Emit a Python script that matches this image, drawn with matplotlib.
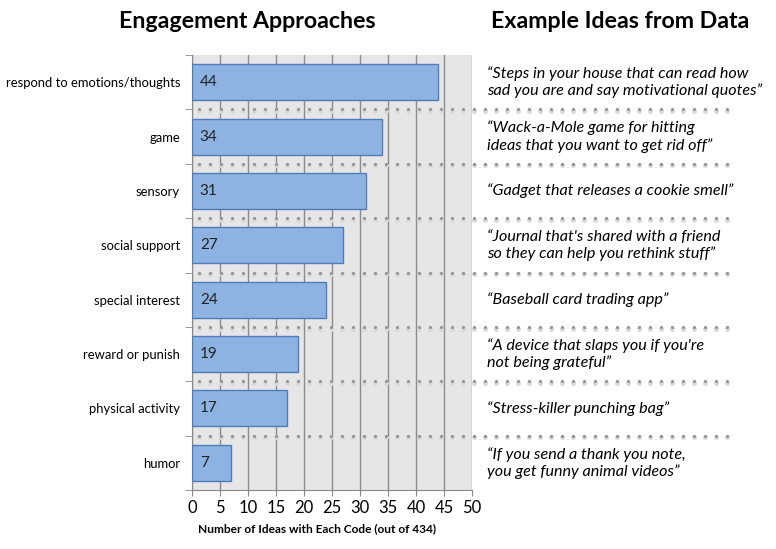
import matplotlib.pyplot as plt
import numpy as np

plt.rcParams['font.family'] = ['Lato', 'DejaVu Sans']

# data
approaches = ['respond to emotions/thoughts', 'game', 'sensory', 'social support',
              'special interest', 'reward or punish', 'physical activity', 'humor']
counts = [44, 34, 31, 27, 24, 19, 17, 7]
quotes = ['\u201cSteps in your house that can read how\nsad you are and say motivational quotes\u201d',
          '\u201cWack-a-Mole game for hitting\nideas that you want to get rid off\u201d',
          '\u201cGadget that releases a cookie smell\u201d',
          '\u201cJournal that\'s shared with a friend\nso they can help you rethink stuff\u201d',
          '\u201cBaseball card trading app\u201d',
          '\u201cA device that slaps you if you\'re\nnot being grateful\u201d',
          '\u201cStress-killer punching bag\u201d',
          '\u201cIf you send a thank you note,\nyou get funny animal videos\u201d']
xticks = [0, 5, 10, 15, 20, 25, 30, 35, 40, 45, 50]

W, H = 776, 549
fig = plt.figure(figsize=(W / 100, H / 100), dpi=100)
ax = fig.add_axes([192 / W, 1 - 490 / H, 280 / W, 435 / H])
ax.set_facecolor('#e6e6e6')

y = np.arange(len(approaches))
ax.barh(y, counts, height=0.66, color='#8db3e2', edgecolor='#4f7dbb', linewidth=1.0, zorder=3)
for yi, c in zip(y, counts):
    ax.text(1.4, yi, str(c), va='center', ha='left', fontsize=11, color='#222222', zorder=4)

ax.set_xlim(0, 50)
ax.set_ylim(len(approaches) - 0.5, -0.5)
ax.set_xticks(xticks)
ax.set_xticklabels([str(t) for t in xticks], fontsize=12)
ax.tick_params(axis='x', length=4, color='#888888', pad=3)
ax.grid(axis='x', color='#8c8c8c', linewidth=1.0, zorder=1)

ax.set_yticks(y)
ax.set_yticklabels(approaches, fontsize=9.4)
ax.tick_params(axis='y', which='major', length=0, pad=8.6)
ax.set_yticks(np.arange(len(approaches) + 1) - 0.5, minor=True)
ax.tick_params(axis='y', which='minor', length=5, color='#888888')

ax.spines['top'].set_visible(False)
ax.spines['right'].set_visible(False)
ax.spines['left'].set_color('#888888')
ax.spines['bottom'].set_color('#888888')

ax.set_xlabel('Number of Ideas with Each Code (out of 434)', fontsize=8.6, fontweight='bold')
ax.xaxis.set_label_coords((317 - 192) / 280, -0.077)

# dotted separators across chart and quote column (dots with soft shadow)
x_end = 50 * (727 - 192) / 280
dot_x = np.arange(1.2, x_end, 50 * 11 / 280)
for b in np.arange(1, len(approaches)) - 0.5:
    ax.plot(dot_x, np.full_like(dot_x, b + 0.03), 'o', ms=3.6, color='#dadada',
            mec='none', clip_on=False, zorder=2)
    ax.plot(dot_x, np.full_like(dot_x, b), 'o', ms=2.3, color='#969696',
            mec='none', clip_on=False, zorder=2)

# quotes
for yi, q in zip(y, quotes):
    ax.text(50 * (487 - 192) / 280, yi, q, ha='left', va='center', fontsize=11.6,
            style='italic', linespacing=1.2, clip_on=False)

fig.text(247 / W, 1 - 22 / H, 'Engagement Approaches', ha='center', va='center',
         fontsize=16.7, fontweight='bold')
fig.text(620 / W, 1 - 22 / H, 'Example Ideas from Data', ha='center', va='center',
         fontsize=16.7, fontweight='bold')

fig.savefig('out.png', dpi=100)
